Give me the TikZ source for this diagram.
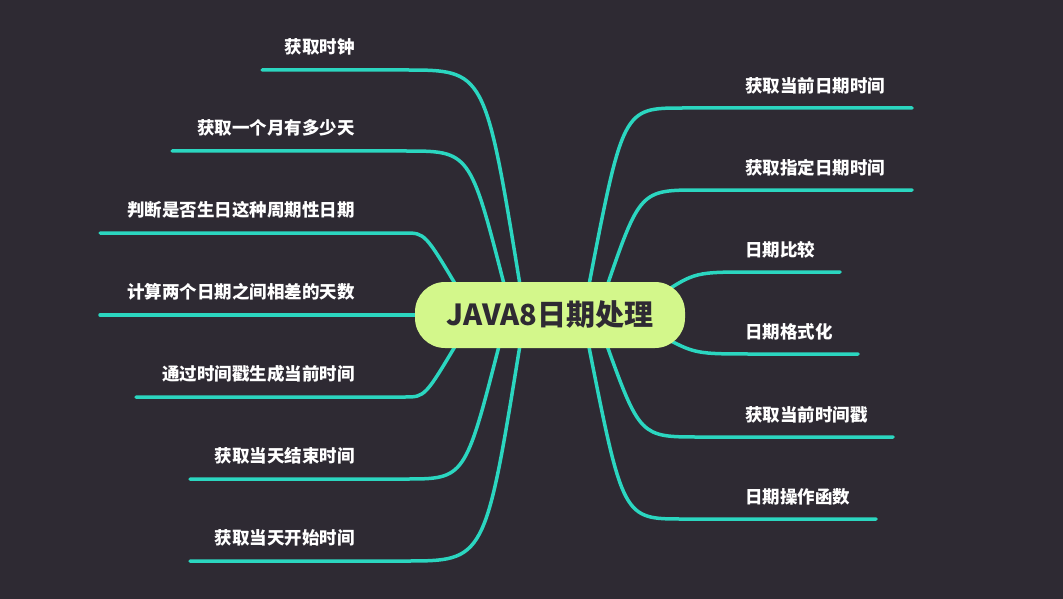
\documentclass[tikz,border=0pt]{standalone}
\usepackage{fontspec}
\setmainfont{Noto Sans CJK SC}
\usetikzlibrary{positioning}
\definecolor{bgdark}{HTML}{2E2A33}
\definecolor{branchteal}{HTML}{2BD6C0}
\definecolor{rootgreen}{HTML}{D3F78B}
\tikzset{
  branch/.style ={draw=branchteal, line width=3.5pt, line cap=round},
  leaf/.style ={text=white, font=\bfseries\fontsize{17.5}{20}\selectfont, inner sep=2pt},
  root/.style ={rounded corners=30pt, fill=rootgreen, text=bgdark, minimum width=270pt, minimum height=66pt, font=\bfseries\fontsize{29}{32}\selectfont}
}
\begin{document}
\begin{tikzpicture}[x=1pt,y=-1pt]
  \fill[bgdark] (0,0) rectangle (1063,599);
  \useasboundingbox (0,0) rectangle (1063,599);
  % right side: line y / line end x / start point / text
  \foreach \n/\ly/\lx/\sx/\sy/\t in {
      r1/108/912/588/290/获取当前日期时间,
      r2/190/912/605/292/获取指定日期时间,
      r3/272/840/660/295/日期比较,
      r4/354/858/660/335/日期格式化,
      r5/437/893/605/340/获取当前时间戳,
      r6/519/876/588/342/日期操作函数}{
    \coordinate (\n s) at (\sx,\sy);
    \coordinate (\n a) at (\sx+95,\ly);
    \coordinate (\n b) at (\lx,\ly);
    \draw[branch] (\n s) .. controls (\sx+35,\ly) .. (\n a) -- (\n b);
    \node[leaf, anchor=west] (\n t) at (743,\ly-22) {\t};
  }
  % left side
  \foreach \n/\ly/\lx/\sx/\sy/\t in {
      l1/70/262/520/285/获取时钟,
      l2/151/172/505/288/获取一个月有多少天,
      l3/233/100/460/292/判断是否生日这种周期性日期,
      l4/315/100/430/315/计算两个日期之间相差的天数,
      l5/397/136/460/338/通过时间戳生成当前时间,
      l6/479/190/500/342/获取当天结束时间,
      l7/561/190/520/345/获取当天开始时间}{
    \coordinate (\n s) at (\sx,\sy);
    \coordinate (\n a) at (405,\ly);
    \coordinate (\n b) at (\lx,\ly);
    \draw[branch] (\n s) .. controls (\sx-35,\ly) .. (\n a) -- (\n b);
    \node[leaf, anchor=east] (\n t) at (357,\ly-23) {\t};
  }
  \node[root] (java) at (550,315) {JAVA8日期处理};
\end{tikzpicture}
\end{document}
